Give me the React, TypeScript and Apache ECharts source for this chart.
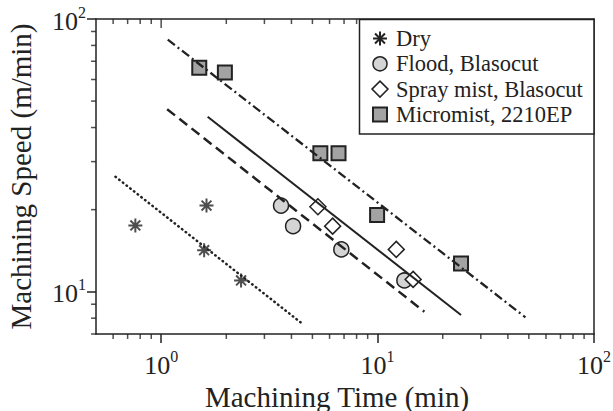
import React, { useEffect, useRef } from "react";
import * as echarts from "echarts";

// ---- data ----
const seriesNames = ["Dry", "Flood, Blasocut", "Spray mist, Blasocut", "Micromist, 2210EP"];

const dryTime = [0.76, 1.62, 1.58, 2.34];
const drySpeed = [17.5, 20.7, 14.2, 11.0];
const floodTime = [3.58, 4.07, 6.8, 13.3];
const floodSpeed = [20.7, 17.4, 14.3, 11.0];
const sprayTime = [5.3, 6.2, 12.2, 14.6];
const spraySpeed = [20.5, 17.4, 14.3, 11.1];
const microTime = [1.5, 1.97, 5.44, 6.6, 9.95, 24.3];
const microSpeed = [66.2, 63.6, 32.2, 32.2, 19.1, 12.7];

const dryFitTime = [0.615, 4.43];
const dryFitSpeed = [26.4, 7.7];
const floodFitTime = [1.066, 16.45];
const floodFitSpeed = [46.7, 8.45];
const sprayFitTime = [1.64, 24.3];
const sprayFitSpeed = [43.8, 8.22];
const microFitTime = [1.073, 48.2];
const microFitSpeed = [84.0, 8.06];

const xMin = 0.5;
const xMax = 100;
const yMin = 7;
const yMax = 100;
const xMajorTicks = [1, 10];
const xMinorTicks = [0.6, 0.7, 0.8, 0.9, 2, 3, 4, 5, 6, 7, 8, 9, 20, 30, 40, 50, 60, 70, 80, 90];
const yMinorTicks = [7, 8, 9, 20, 30, 40, 50, 60, 70, 80, 90];

const FONT = "Liberation Serif";
const INK = "#222";
const FLOOD_FILL = "#d4d4d4";
const SPRAY_FILL = "#fff";
const MICRO_FILL = "#a3a3a3";
// anchors for tick marks, a hair inside the axis range
const EPS = 1.0005;

const zip = (a: number[], b: number[]) => a.map((v, i) => [v, b[i]]);

const powLabel = (v: number) => {
  const l = Math.log10(v);
  if (Math.abs(l - Math.round(l)) > 1e-6) return "";
  return `{b|10}{s|${Math.round(l)}}`;
};
const labelRich = {
  b: { fontSize: 26, fontFamily: FONT, color: INK, lineHeight: 30, verticalAlign: "bottom" },
  s: { fontSize: 16, fontFamily: FONT, color: INK, lineHeight: 16, verticalAlign: "top" },
};

// one-sided tick glyphs: visible bar on one half of the symbol box
const TICK_DOWN = "path://M0,-1L0,-1M0,0L1,0L1,1L0,1Z";
const TICK_LEFT = "path://M1,0L1,0M-1,0L0,0L0,1L-1,1Z";
const ASTERISK = "path://M0,-10L0,10M-10,0L10,0M-7.07,-7.07L7.07,7.07M-7.07,7.07L7.07,-7.07";

const tickMarks = (name: string, points: number[][], symbol: string, size: number[]) => ({
  name,
  type: "scatter",
  data: points,
  symbol,
  symbolSize: size,
  itemStyle: { color: INK, borderWidth: 0 },
});

export default function App() {
  const ref = useRef<HTMLDivElement>(null);
  useEffect(() => {
    if (!ref.current) return;
    const chart = echarts.init(ref.current, null, { renderer: "svg" });
    const baseX = { type: "log", logBase: 10, min: xMin, max: xMax, splitLine: { show: false } };
    const baseY = { type: "log", logBase: 10, min: yMin, max: yMax, splitLine: { show: false } };
    const lineSt = { color: INK, width: 1.5 };

    // legend box (drawn with graphic elements)
    const rowY = (i: number) => 38.5 + i * 25.3;
    const sx = 380;
    const tx = 396;
    const a = 7;
    const d = 4.95;
    const ay = rowY(0);
    const legendEls: any[] = [
      {
        type: "rect",
        z: 100,
        shape: { x: 359.5, y: 19.5, width: 234.5, height: 114.5 },
        style: { fill: "#fff", stroke: INK, lineWidth: 1.5 },
      },
      { type: "line", z: 101, shape: { x1: sx, y1: ay - a, x2: sx, y2: ay + a }, style: { stroke: INK, lineWidth: 2 } },
      { type: "line", z: 101, shape: { x1: sx - a, y1: ay, x2: sx + a, y2: ay }, style: { stroke: INK, lineWidth: 2 } },
      { type: "line", z: 101, shape: { x1: sx - d, y1: ay - d, x2: sx + d, y2: ay + d }, style: { stroke: INK, lineWidth: 2 } },
      { type: "line", z: 101, shape: { x1: sx - d, y1: ay + d, x2: sx + d, y2: ay - d }, style: { stroke: INK, lineWidth: 2 } },
      {
        type: "circle",
        z: 101,
        shape: { cx: sx, cy: rowY(1), r: 7 },
        style: { fill: FLOOD_FILL, stroke: INK, lineWidth: 1.5 },
      },
      {
        type: "polygon",
        z: 101,
        shape: {
          points: [
            [sx, rowY(2) - 8],
            [sx + 8, rowY(2)],
            [sx, rowY(2) + 8],
            [sx - 8, rowY(2)],
          ],
        },
        style: { fill: SPRAY_FILL, stroke: INK, lineWidth: 1.5 },
      },
      {
        type: "rect",
        z: 101,
        shape: { x: sx - 7, y: rowY(3) - 7, width: 14, height: 14 },
        style: { fill: MICRO_FILL, stroke: INK, lineWidth: 2 },
      },
      ...seriesNames.map((n, i) => ({
        type: "text",
        z: 101,
        x: tx,
        y: rowY(i),
        style: {
          text: n,
          fontSize: 22.5,
          fontFamily: FONT,
          fill: INK,
          align: "left",
          verticalAlign: "middle",
        },
      })),
    ];

    const option: any = {
      animation: false,
      backgroundColor: "#fff",
      grid: { left: 96, right: 19, top: 19, bottom: 77, outerBoundsMode: "none" },
      xAxis: [
        {
          ...baseX,
          position: "bottom",
          axisLine: { show: true, lineStyle: lineSt },
          axisTick: { show: true, inside: false, length: 9, lineStyle: lineSt },
          axisLabel: { formatter: powLabel, rich: labelRich, margin: 14, showMinLabel: false },
          name: "Machining Time (min)",
          nameLocation: "middle",
          nameGap: 38,
          nameTextStyle: { fontSize: 29, fontFamily: FONT, color: INK, padding: [0, 16, 0, 0] },
        },
        {
          ...baseX,
          position: "top",
          axisLine: { show: true, lineStyle: lineSt },
          axisTick: { show: false },
          axisLabel: { show: false },
        },
      ],
      yAxis: [
        {
          ...baseY,
          position: "left",
          axisLine: { show: true, lineStyle: lineSt },
          axisTick: { show: true, inside: false, length: 9, lineStyle: lineSt },
          axisLabel: { formatter: powLabel, rich: labelRich, margin: 10, showMinLabel: false },
          name: "Machining Speed (m/min)",
          nameLocation: "middle",
          nameGap: 61,
          nameRotate: 90,
          nameTextStyle: { fontSize: 29, fontFamily: FONT, color: INK },
        },
        {
          ...baseY,
          position: "right",
          axisLine: { show: true, lineStyle: lineSt },
          axisTick: { show: false },
          axisLabel: { show: false },
        },
      ],
      graphic: { elements: legendEls },
      series: [
        tickMarks("tick-bottom", xMinorTicks.map((v) => [v, yMin * EPS]), TICK_DOWN, [1.5, 10]),
        tickMarks("tick-top", xMinorTicks.map((v) => [v, yMax / EPS]), TICK_DOWN, [1.5, 10]),
        tickMarks("tick-top-major", xMajorTicks.map((v) => [v, yMax / EPS]), TICK_DOWN, [1.5, 18]),
        tickMarks("tick-left", yMinorTicks.map((v) => [xMin * EPS, v]), TICK_LEFT, [10, 1.5]),
        {
          name: seriesNames[0],
          type: "scatter",
          data: zip(dryTime, drySpeed),
          symbol: ASTERISK,
          symbolSize: 14,
          itemStyle: { color: "rgba(0,0,0,0)", borderColor: INK, borderWidth: 2 },
        },
        {
          name: seriesNames[1],
          type: "scatter",
          data: zip(floodTime, floodSpeed),
          symbol: "circle",
          symbolSize: 15,
          itemStyle: { color: FLOOD_FILL, borderColor: INK, borderWidth: 1.5, opacity: 1 },
        },
        {
          name: seriesNames[2],
          type: "scatter",
          data: zip(sprayTime, spraySpeed),
          symbol: "diamond",
          symbolSize: 16,
          itemStyle: { color: SPRAY_FILL, borderColor: INK, borderWidth: 1.5, opacity: 1 },
        },
        {
          name: seriesNames[3],
          type: "scatter",
          data: zip(microTime, microSpeed),
          symbol: "rect",
          symbolSize: 14,
          itemStyle: { color: MICRO_FILL, borderColor: INK, borderWidth: 2, opacity: 1 },
        },
        {
          type: "line",
          data: zip(dryFitTime, dryFitSpeed),
          symbol: "none",
          z: 3,
          lineStyle: { color: INK, width: 2.5, type: [0.5, 4.2], cap: "round" },
        },
        {
          type: "line",
          data: zip(floodFitTime, floodFitSpeed),
          symbol: "none",
          z: 3,
          lineStyle: { color: INK, width: 2.5, type: [10, 5.5] },
        },
        {
          type: "line",
          data: zip(sprayFitTime, sprayFitSpeed),
          symbol: "none",
          z: 3,
          lineStyle: { color: INK, width: 2 },
        },
        {
          type: "line",
          data: zip(microFitTime, microFitSpeed),
          symbol: "none",
          z: 3,
          lineStyle: { color: INK, width: 2.3, type: [9, 3.5, 2, 3.5] },
        },
      ],
    };
    chart.setOption(option);
    return () => chart.dispose();
  }, []);
  return (
    <div
      ref={ref}
      style={{ position: "fixed", left: 0, top: 0, width: 613, height: 411, background: "#fff" }}
    />
  );
}
